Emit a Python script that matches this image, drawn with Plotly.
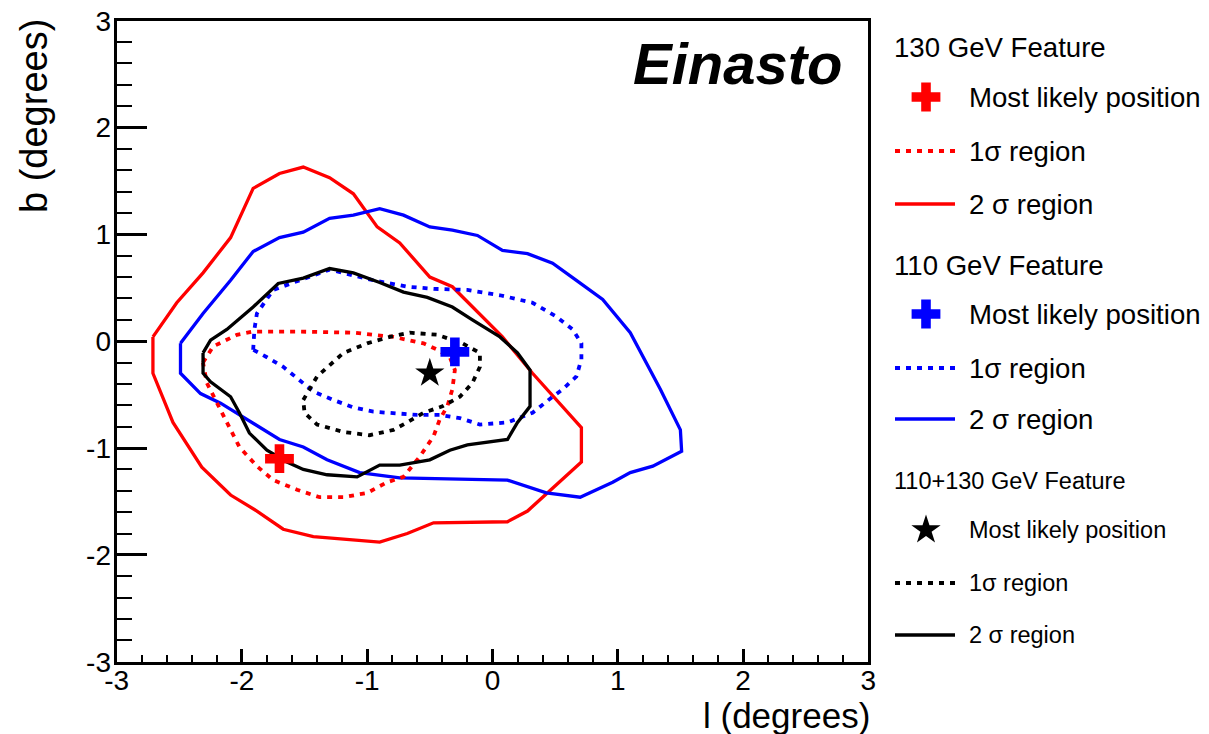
import plotly.graph_objects as go

# ---------------------------------------------------------------- data
# 130 GeV feature: most likely position and contour lines (l, b in degrees)
best_130 = (-1.7, -1.1)
red1_l = [-2.31, -2.23, -2.04, -1.91, -1.56, -1.11, -0.79, -0.55, -0.44, -0.34, -0.30, -0.32, -0.36, -0.42,
          -0.47, -0.58, -0.71, -0.84, -1.00, -1.19, -1.38, -1.56, -1.75, -1.88, -2.02, -2.12, -2.20, -2.28]
red1_b = [-0.20, -0.05, 0.06, 0.09, 0.09, 0.08, 0.04, -0.02, -0.08, -0.15, -0.27, -0.45, -0.61, -0.73,
          -0.89, -1.08, -1.27, -1.32, -1.42, -1.46, -1.46, -1.39, -1.30, -1.17, -0.99, -0.76, -0.57, -0.39]
red2_l = [-2.71, -2.52, -2.31, -2.09, -1.91, -1.70, -1.51, -1.30, -1.11, -0.92, -0.74, -0.50, -0.32, 0.08,
          0.32, 0.67, 0.71, 0.71, 0.40, 0.28, 0.12, -0.47, -0.68, -0.90, -1.43, -1.67, -1.88, -2.09, -2.32,
          -2.55, -2.71]
red2_b = [0.04, 0.36, 0.64, 0.97, 1.43, 1.57, 1.63, 1.53, 1.38, 1.07, 0.92, 0.60, 0.51, 0.04,
          -0.30, -0.76, -0.81, -1.13, -1.46, -1.59, -1.69, -1.70, -1.80, -1.88, -1.83, -1.76, -1.59, -1.44, -1.18,
          -0.76, -0.30]

# 110 GeV feature
best_110 = (-0.3, -0.1)
blue1_l = [-1.91, -1.90, -1.88, -1.80, -1.75, -1.54, -1.30, -0.95, -0.68, -0.47, -0.20, 0.06, 0.32, 0.51,
           0.64, 0.71, 0.71, 0.67, 0.56, 0.48, 0.32, 0.12, -0.10, -0.26, -0.42, -0.60, -0.79, -0.95, -1.11,
           -1.27, -1.43, -1.54, -1.67, -1.80]
blue1_b = [-0.08, 0.11, 0.26, 0.39, 0.48, 0.57, 0.67, 0.57, 0.51, 0.49, 0.48, 0.43, 0.36, 0.23,
           0.11, -0.02, -0.17, -0.33, -0.45, -0.52, -0.67, -0.76, -0.78, -0.72, -0.69, -0.69, -0.67, -0.66, -0.62,
           -0.55, -0.47, -0.36, -0.24, -0.15]
blue2_l = [-2.49, -2.31, -2.09, -1.91, -1.70, -1.51, -1.30, -1.11, -0.90, -0.71, -0.50, -0.32, -0.12, 0.08,
           0.28, 0.48, 0.67, 0.88, 1.10, 1.34, 1.50, 1.51, 1.28, 1.10, 0.96, 0.70, 0.43, 0.12, -0.74, -1.06,
           -1.32, -1.51, -1.70, -1.94, -2.17, -2.33, -2.49]
blue2_b = [-0.02, 0.26, 0.57, 0.84, 0.97, 1.02, 1.15, 1.18, 1.24, 1.18, 1.07, 1.04, 0.99, 0.85,
           0.82, 0.73, 0.57, 0.39, 0.08, -0.45, -0.83, -1.03, -1.17, -1.23, -1.32, -1.46, -1.42, -1.30, -1.28, -1.23,
           -1.11, -0.99, -0.92, -0.75, -0.58, -0.49, -0.30]

# combined 110+130 GeV feature
best_comb = (-0.5, -0.3)
blk1_l = [-1.51, -1.40, -1.19, -1.00, -0.82, -0.66, -0.44, -0.24, -0.10, -0.10, -0.16, -0.26, -0.40, -0.55,
          -0.68, -0.79, -0.98, -1.19, -1.40, -1.50]
blk1_b = [-0.55, -0.33, -0.11, -0.02, 0.04, 0.08, 0.06, -0.02, -0.11, -0.24, -0.39, -0.52, -0.61, -0.67,
          -0.76, -0.83, -0.88, -0.85, -0.78, -0.67]
blk2_l = [-2.31, -2.25, -2.12, -1.91, -1.71, -1.51, -1.30, -1.11, -0.90, -0.71, -0.52, -0.32, -0.16, 0.06,
          0.20, 0.30, 0.30, 0.20, 0.12, -0.20, -0.34, -0.50, -0.74, -0.90, -1.08, -1.32, -1.51, -1.64, -1.80,
          -1.94, -2.02, -2.09, -2.25, -2.31]
blk2_b = [-0.11, 0.01, 0.11, 0.32, 0.54, 0.59, 0.68, 0.64, 0.55, 0.46, 0.41, 0.32, 0.20, 0.04,
          -0.11, -0.27, -0.61, -0.76, -0.92, -0.97, -1.02, -1.11, -1.16, -1.16, -1.27, -1.25, -1.20, -1.13, -1.02,
          -0.86, -0.67, -0.52, -0.38, -0.30]

tick_vals = [-3, -2, -1, 0, 1, 2, 3]
tick_text = ["-3", "-2", "-1", "0", "1", "2", "3"]

group_titles = ["130 GeV Feature", "110 GeV Feature", "110+130 GeV Feature"]
item_labels = ["Most likely position", "1\u03c3 region", "2 \u03c3 region"]

# ---------------------------------------------------------------- style
W, H = 1209, 734
FX0, FX1 = 116.6, 868.3      # frame left/right (px)
FY0, FY1 = 20.7, 661.7       # frame top/bottom (px)
RED, BLUE, BLACK = "#ff0000", "#0000ff", "#000000"
FONT = "Liberation Sans, Arial, Helvetica, sans-serif"
DOT = "5px,6px"
LW = 3.3
DLW = 3.8


def closed(seq):
    return list(seq) + [seq[0]]


fig = go.Figure()

contours = [
    (red2_l, red2_b, RED, "solid"),
    (blue2_l, blue2_b, BLUE, "solid"),
    (red1_l, red1_b, RED, DOT),
    (blue1_l, blue1_b, BLUE, DOT),
    (blk1_l, blk1_b, BLACK, DOT),
    (blk2_l, blk2_b, BLACK, "solid"),
]
for ls, bs, col, dash in contours:
    fig.add_trace(go.Scatter(x=closed(ls), y=closed(bs), mode="lines",
                             line=dict(color=col, width=LW if dash == "solid" else DLW, dash=dash),
                             showlegend=False, hoverinfo="skip"))

markers = [(best_130, RED, "cross", 24), (best_110, BLUE, "cross", 24), (best_comb, BLACK, "star", 22)]
for (l, b), col, sym, size in markers:
    fig.add_trace(go.Scatter(x=[l], y=[b], mode="markers",
                             marker=dict(symbol=sym, size=size, color=col, line=dict(width=0)),
                             showlegend=False, hoverinfo="skip"))

# ---------------------------------------------------------------- key (pixel-space helper axes)
KX0 = 870
key_rows = [  # (title y, marker y, 1 sigma y, 2 sigma y, colour, symbol, marker size, font size)
    (47, 97, 151, 204, RED, "cross", 24, 27.6),
    (265, 314, 368, 419, BLUE, "cross", 24, 27.6),
    (481, 530, 583, 635, BLACK, "star", 22, 23.5),
]
annotations = []
for (ty, my, y1, y2, col, sym, msize, fs), title in zip(key_rows, group_titles):
    annotations.append(dict(x=892, y=ty, xref="x2", yref="y2", text=title, showarrow=False,
                            xanchor="left", yanchor="middle", font=dict(family=FONT, size=fs, color="black")))
    fig.add_trace(go.Scatter(x=[926], y=[my], mode="markers", xaxis="x2", yaxis="y2",
                             marker=dict(symbol=sym, size=msize, color=col, line=dict(width=0)),
                             showlegend=False, hoverinfo="skip"))
    fig.add_trace(go.Scatter(x=[895, 955], y=[y1, y1], mode="lines", xaxis="x2", yaxis="y2",
                             line=dict(color=col, width=DLW, dash=DOT), showlegend=False, hoverinfo="skip"))
    fig.add_trace(go.Scatter(x=[895, 955], y=[y2, y2], mode="lines", xaxis="x2", yaxis="y2",
                             line=dict(color=col, width=LW), showlegend=False, hoverinfo="skip"))
    for yy, lab in zip((my, y1, y2), item_labels):
        annotations.append(dict(x=967, y=yy, xref="x2", yref="y2", text=lab, showarrow=False,
                                xanchor="left", yanchor="middle",
                                font=dict(family=FONT, size=fs, color="black")))

# model label and axis titles
annotations.append(dict(x=2.81, y=2.60, xref="x", yref="y", text="<b><i>Einasto</i></b>", showarrow=False,
                        xanchor="right", yanchor="middle", font=dict(family=FONT, size=58, color="black")))
annotations.append(dict(x=872 / W, y=1 - 694 / H, xref="paper", yref="paper", text="l (degrees)",
                        showarrow=False, xanchor="right", yanchor="top",
                        font=dict(family=FONT, size=35, color="black")))
annotations.append(dict(x=34 / W, y=1 - 17 / H, xref="paper", yref="paper", text="b (degrees)",
                        showarrow=False, xanchor="center", yanchor="top", textangle=-90,
                        font=dict(family=FONT, size=38, color="black")))

axis_common = dict(range=[-3, 3], tickvals=tick_vals, ticktext=tick_text, ticks="inside",
                   tickcolor="black", showline=True, linecolor="black", linewidth=3, mirror=True,
                   showgrid=False, zeroline=False, automargin=False,
                   tickfont=dict(family=FONT, size=28, color="black"))

fig.update_layout(
    width=W, height=H,
    margin=dict(l=0, r=0, t=0, b=0, pad=0, autoexpand=False),
    paper_bgcolor="white", plot_bgcolor="white",
    showlegend=False,
    xaxis=dict(domain=[FX0 / W, FX1 / W], ticklen=13, tickwidth=2.5, ticklabelstandoff=-8,
               minor=dict(dtick=0.2, ticks="inside", ticklen=7, tickwidth=2, tickcolor="black"),
               **axis_common),
    yaxis=dict(domain=[(H - FY1) / H, (H - FY0) / H], ticklen=30, tickwidth=2.5, ticklabelstandoff=-3,
               minor=dict(dtick=0.2, ticks="inside", ticklen=15, tickwidth=2, tickcolor="black"),
               **axis_common),
    xaxis2=dict(domain=[KX0 / W, 1], range=[KX0, W], visible=False, fixedrange=True, automargin=False),
    yaxis2=dict(domain=[0, 1], range=[H, 0], visible=False, fixedrange=True, anchor="x2", automargin=False),
    annotations=annotations,
)
fig.update_traces(cliponaxis=False, selector=dict(xaxis="x2"))

fig.write_html("out.html")
